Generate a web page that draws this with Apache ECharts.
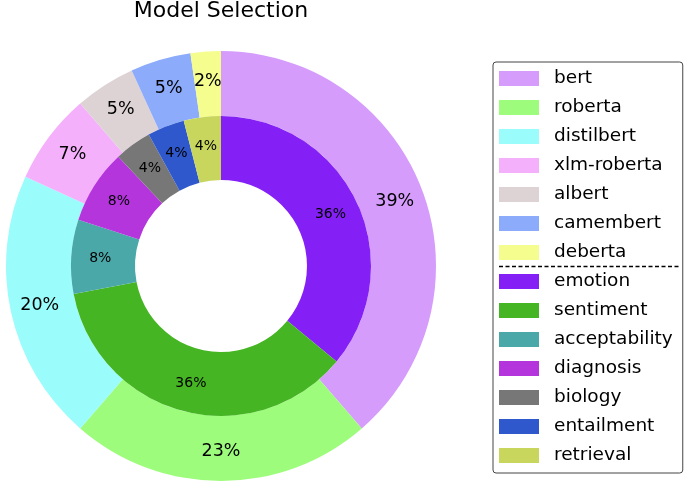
<!DOCTYPE html>
<html><head><meta charset="utf-8">
<script src="https://cdn.jsdelivr.net/npm/echarts@6/dist/echarts.min.js"></script>
<style>html,body{margin:0;padding:0;background:#fff}#c{width:685px;height:491px}</style>
</head><body><div id="c"></div>
<script>
const modelNames = ['bert','roberta','distilbert','xlm-roberta','albert','camembert','deberta'];
const modelCounts = [17,10,9,3,2,2,1];
const modelColors = ['#D59CFC','#9DFC7C','#9BFCFC','#F5B0FC','#DDD3D5','#8DABFB','#F4FD8D'];
const taskNames = ['emotion','sentiment','acceptability','diagnosis','biology','entailment','retrieval'];
const taskCounts = [9,9,2,2,1,1,1];
const taskColors = ['#8420F5','#45B523','#4BA8A8','#B535DD','#777777','#2F58CD','#C9D65E'];

const FONT = 'DejaVu Sans';
function build(names, counts, colors){
  return names.map((n,i)=>({name:n, value:counts[i], itemStyle:{color:colors[i]}}));
}
function pct(arr){
  const tot = arr.reduce((a,b)=>a+b,0);
  return p => Math.round(p.value/tot*100) + '%';
}
const chart = echarts.init(document.getElementById('c'), null, {renderer:'canvas'});
chart.setOption({
  animation:false,
  graphic:[
    {type:'text', x:221, y:11, style:{text:'Model Selection', font:'22px "DejaVu Sans"', fill:'#000', textAlign:'center', textVerticalAlign:'middle'}},
    {type:'line', shape:{x1:499, y1:266.5, x2:681, y2:266.5}, style:{stroke:'#000', lineWidth:1.3, lineDash:[4,2.5]}, z:100}
  ],
  legend:{
    orient:'vertical', left:493, top:62, height:425,
    padding:[7,10,8,6],
    itemWidth:40, itemHeight:15, itemGap:10,
    icon:'rect',
    borderColor:'#444', borderWidth:1, borderRadius:3,
    textStyle:{fontFamily:FONT, fontSize:18.5, lineHeight:17, color:'#000', padding:[0,0,0,10]},
    data:[...modelNames, ...taskNames],
    selectedMode:false
  },
  series:[
    {type:'pie', name:'models', center:[221,266], radius:[150,215], startAngle:90, clockwise:true,
     silent:true, emphasis:{disabled:true},
     itemStyle:{borderWidth:0},
     label:{position:'inside', formatter:pct(modelCounts), fontFamily:FONT, fontSize:17.5, color:'#000'},
     labelLine:{show:false},
     data:build(modelNames, modelCounts, modelColors)},
    {type:'pie', name:'tasks', center:[221,266], radius:[86,150], startAngle:90, clockwise:true,
     silent:true, emphasis:{disabled:true},
     itemStyle:{borderWidth:0},
     label:{position:'inside', formatter:pct(taskCounts), fontFamily:FONT, fontSize:14, color:'#000'},
     labelLine:{show:false},
     data:build(taskNames, taskCounts, taskColors)}
  ]
});
</script></body></html>
